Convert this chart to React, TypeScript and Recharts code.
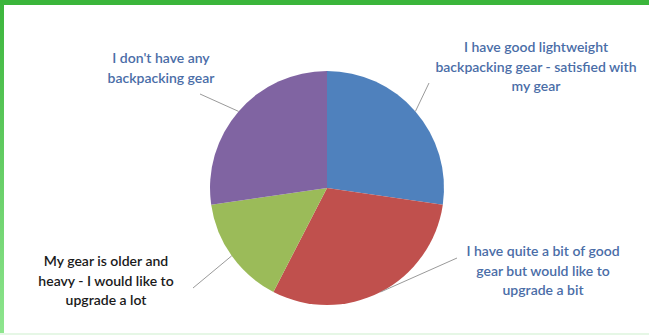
import { PieChart, Pie, Cell } from 'recharts'

const categories = [
  'I have good lightweight backpacking gear - satisfied with my gear',
  'I have quite a bit of good gear but would like to upgrade a bit',
  'My gear is older and heavy - I would like to upgrade a lot',
  "I don't have any backpacking gear",
]
const responses = [9, 10, 5, 9]
const labelLines = [
  ['I have good lightweight', 'backpacking gear - satisfied with', 'my gear'],
  ['I have quite a bit of good', 'gear but would like to', 'upgrade a bit'],
  ['My gear is older and', 'heavy - I would like to', 'upgrade a lot'],
  ["I don't have any", 'backpacking gear'],
]

const colors = ['#4F81BD', '#C0504D', '#9BBB59', '#8064A2']
const labelColors = ['#4A6DA7', '#4A6DA7', '#1a1a1a', '#4A6DA7']

// manual label placement (Excel style): text centre + where the leader ends
const labelLayout = [
  { x: 536, y: 52, lx: 429, ly: 83 },
  { x: 543, y: 256, lx: 457, ly: 258 },
  { x: 106, y: 266, lx: 193, ly: 288 },
  { x: 161, y: 63, lx: 200, ly: 94 },
]

const data = categories.map((name, i) => ({ name, value: responses[i] }))

const RAD = Math.PI / 180

function renderLabel(props: any) {
  const { cx, cy, midAngle, outerRadius, index } = props
  const sx = cx + outerRadius * Math.cos(-midAngle * RAD)
  const sy = cy + outerRadius * Math.sin(-midAngle * RAD)
  const lay = labelLayout[index]
  return (
    <g>
      <line x1={sx} y1={sy} x2={lay.lx} y2={lay.ly} stroke="#9a9a9a" strokeWidth={1} />
      <text
        x={lay.x}
        y={lay.y}
        textAnchor="middle"
        fill={labelColors[index]}
        fontSize={14}
        fontWeight={600}
        fontFamily="Lato, 'Open Sans', sans-serif"
      >
        {labelLines[index].map((t, k) => (
          <tspan key={k} x={lay.x} dy={k === 0 ? 0 : 19.5}>
            {t}
          </tspan>
        ))}
      </text>
    </g>
  )
}

export default function App() {
  return (
    <div style={{ position: 'absolute', left: 0, top: 0, width: 649, height: 335, background: '#fff' }}>
      <div style={{ position: 'absolute', left: 0, top: 0, width: 649, height: 5, background: '#3BB53B' }} />
      <div
        style={{
          position: 'absolute',
          left: 0,
          top: 0,
          width: 4,
          height: 335,
          background: 'linear-gradient(#3BB53B, #8FE68F)',
        }}
      />
      <div style={{ position: 'absolute', left: 0, bottom: 0, width: 649, height: 2, background: '#E6F7E6' }} />
      <PieChart
        width={649}
        height={335}
        margin={{ top: 0, right: 0, bottom: 0, left: 0 }}
        style={{ position: 'absolute', left: 0, top: 0 }}
      >
        <Pie
          data={data}
          dataKey="value"
          nameKey="name"
          cx={327}
          cy={188}
          outerRadius={117}
          startAngle={90}
          endAngle={-270}
          stroke="none"
          label={renderLabel}
          labelLine={false}
          isAnimationActive={false}
        >
          {data.map((d, i) => (
            <Cell key={d.name} fill={colors[i]} />
          ))}
        </Pie>
      </PieChart>
    </div>
  )
}
